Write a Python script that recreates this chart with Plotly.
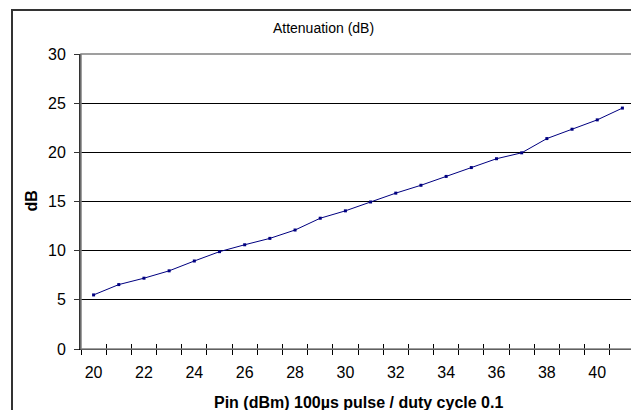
import plotly.graph_objects as go

pin_dbm = list(range(20, 42))
attenuation_db = [5.5, 6.55, 7.2, 7.95, 8.95, 9.9, 10.6, 11.25, 12.1, 13.3, 14.05,
                  14.95, 15.85, 16.65, 17.55, 18.45, 19.35, 19.95, 21.4, 22.35, 23.3, 24.5]
x_tick_labels = list(range(20, 41, 2))
y_ticks = [0, 5, 10, 15, 20, 25, 30]

title_text = "Attenuation (dB)"
x_title = "Pin (dBm) 100µs pulse / duty cycle 0.1"
y_title = "dB"

FONT = "Liberation Sans, Arial, sans-serif"
OFF = 8  # page body margin
W, H = 639 - OFF, 410 - OFF
L, T = 81 - OFF, 54 - OFF
R = W - (635 - OFF)
B = H - (349 - OFF)
pw, ph = W - L - R, H - T - B

boundaries = [v - 0.5 for v in pin_dbm] + [pin_dbm[-1] + 0.5]
xr = [pin_dbm[0] - 0.5, pin_dbm[-1] + 0.5]

fig = go.Figure()
fig.add_trace(go.Scatter(
    x=pin_dbm, y=attenuation_db, mode="lines+markers",
    line=dict(color="#000080", width=1),
    marker=dict(color="#000080", size=3, symbol="square"),
    showlegend=False, hoverinfo="x+y"))
# helper traces so the overlay axes (crossing tick marks) are drawn
for ax in ("x2", "x3"):
    fig.add_trace(go.Scatter(x=xr, y=[0, 0], xaxis=ax, yaxis="y", mode="lines",
                             line=dict(width=0), opacity=0, showlegend=False,
                             hoverinfo="skip"))

fig.update_layout(
    width=W, height=H,
    margin=dict(l=L, r=R, t=T, b=B, pad=0),
    paper_bgcolor="white", plot_bgcolor="white",
    font=dict(family=FONT, size=16, color="black"),
    title=dict(text=title_text, x=(323.5 - OFF) / W, xref="container", xanchor="center",
               y=1 - (28.5 - OFF) / H, yref="container", yanchor="middle",
               font=dict(family=FONT, size=14, color="black")),
    xaxis=dict(range=xr, tickmode="array", tickvals=x_tick_labels,
               ticktext=[str(v) for v in x_tick_labels], ticks="",
               showgrid=False, zeroline=False, showline=True, linecolor="black",
               linewidth=1, tickfont=dict(size=16), ticklabelstandoff=9),
    xaxis2=dict(range=xr, overlaying="x", anchor="y", side="bottom",
                tickmode="array", tickvals=boundaries, ticks="outside", ticklen=5,
                tickcolor="black", tickwidth=1, showticklabels=False,
                showgrid=False, zeroline=False, showline=False),
    xaxis3=dict(range=xr, overlaying="x", anchor="y", side="bottom",
                tickmode="array", tickvals=boundaries, ticks="inside", ticklen=5,
                tickcolor="black", tickwidth=1, showticklabels=False,
                showgrid=False, zeroline=False, showline=False),
    yaxis=dict(range=[0, 30], tickmode="array", tickvals=y_ticks, ticks="outside",
               ticklen=5, tickcolor="#333333", tickwidth=1,
               showgrid=True, gridcolor="black", gridwidth=1, zeroline=False,
               showline=True, linecolor="#333333", linewidth=2,
               tickfont=dict(size=16), ticklabelstandoff=5),
    shapes=[
        # plot-area border (top / right, gray)
        dict(type="rect", xref="x domain", yref="y domain", x0=0, x1=1, y0=0, y1=1,
             line=dict(color="#808080", width=1.5), layer="above"),
        # outer chart border
        dict(type="rect", xref="paper", yref="paper",
             x0=(12 - 81) / pw, x1=(637 - 81) / pw,
             y0=-0.5, y1=(349 - 10) / ph,
             line=dict(color="#333333", width=2), layer="above"),
    ],
    annotations=[
        dict(text=x_title, xref="paper", yref="paper", x=0.5,
             y=-(402 - 349) / ph, xanchor="center", yanchor="middle",
             showarrow=False, font=dict(family=FONT, size=16, color="black",
                                        weight="bold")),
        dict(text=y_title, xref="paper", yref="paper", x=(31 - 81) / pw, y=0.5,
             xanchor="center", yanchor="middle", textangle=-90, showarrow=False,
             font=dict(family=FONT, size=16, color="black", weight="bold")),
    ],
)

fig.write_html("out.html")
